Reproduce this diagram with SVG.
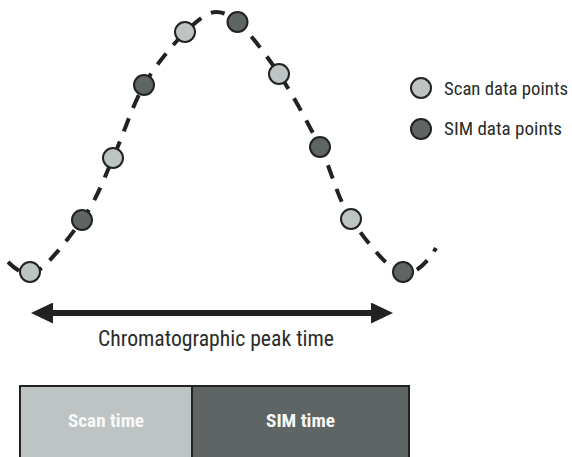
<svg xmlns="http://www.w3.org/2000/svg" width="572" height="457" viewBox="0 0 572 457">
<style>
.curve{fill:none;stroke:#202320;stroke-width:4;stroke-dasharray:14 11}
.pt{stroke:#202320;stroke-width:2}
.scan{fill:#bec4c3}
.sim{fill:#5f6564}
.lbl{font-family:"Liberation Sans Narrow","Roboto Condensed",Roboto,"Liberation Sans",sans-serif;fill:#2a2d2b}
.box{stroke:#202320;stroke-width:2}
.boxtxt{font-family:"Liberation Sans Narrow","Roboto Condensed",Roboto,"Liberation Sans",sans-serif;font-weight:bold;font-size:18.5px;fill:#f7f8f8}
</style>
<defs>
<marker id="ah" markerUnits="userSpaceOnUse" markerWidth="22" markerHeight="21" refX="2" refY="10.5" orient="auto-start-reverse">
<path d="M0,0 L22,10.5 L0,21 Z" fill="#202320"/>
</marker>
</defs>
<g id="connectors">
<path id="peak-curve" class="curve" d="M8,262 C14,268 22,274 30,274 C42,274 68,239 82,220 C96,201 103,181 113,158 C123,136 132,106 144,85 C156,64 173,45 185,32 C197,21 207,12 216,12 C223,12 230,15 237,21 C248,31 265,53 279,74 C293,95 308,123 320,147 C332,171 337,198 351,219 C365,240 392,274 404,274 C416,274 428,262 436,248"/>
<line id="peak-time-arrow" x1="51" y1="313" x2="373" y2="313" stroke="#202320" stroke-width="6" marker-start="url(#ah)" marker-end="url(#ah)"/>
</g>
<g id="points">
<circle class="pt scan" cx="30" cy="272" r="10"/>
<circle class="pt sim" cx="82" cy="220" r="10"/>
<circle class="pt scan" cx="113" cy="158" r="10"/>
<circle class="pt sim" cx="144" cy="85" r="10"/>
<circle class="pt scan" cx="185" cy="32" r="10"/>
<circle class="pt sim" cx="237.5" cy="22" r="10"/>
<circle class="pt scan" cx="279" cy="74" r="10"/>
<circle class="pt sim" cx="320" cy="147" r="10"/>
<circle class="pt scan" cx="351" cy="219" r="10"/>
<circle class="pt sim" cx="403" cy="272" r="10"/>
</g>
<g id="legend-scan">
<circle class="pt scan" cx="421" cy="88" r="10"/>
<text class="lbl" x="444" y="95" font-size="18.5" textLength="124" lengthAdjust="spacingAndGlyphs">Scan data points</text>
</g>
<g id="legend-sim">
<circle class="pt sim" cx="421" cy="129" r="10"/>
<text class="lbl" x="444" y="135" font-size="18.5" textLength="118" lengthAdjust="spacingAndGlyphs">SIM data points</text>
</g>
<g id="peak-time-label">
<text class="lbl" x="98" y="345.5" font-size="22" textLength="236" lengthAdjust="spacingAndGlyphs">Chromatographic peak time</text>
</g>
<g id="scan-time">
<rect class="box scan" x="20" y="386" width="172" height="80"/>
<text class="boxtxt" x="68" y="427" textLength="76" lengthAdjust="spacingAndGlyphs">Scan time</text>
</g>
<g id="sim-time">
<rect class="box sim" x="192" y="386" width="217" height="80"/>
<text class="boxtxt" x="266" y="427" textLength="69" lengthAdjust="spacingAndGlyphs">SIM time</text>
</g>
</svg>
